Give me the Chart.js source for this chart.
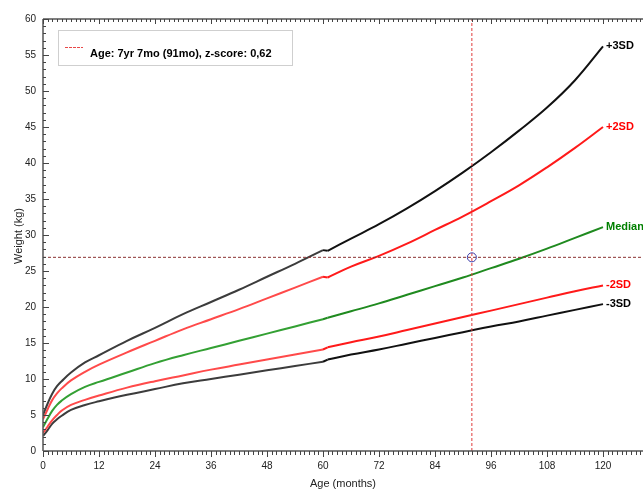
<!DOCTYPE html>
<html>
<head>
<meta charset="utf-8">
<script src="https://cdn.jsdelivr.net/npm/chart.js@4.4.1/dist/chart.umd.min.js"></script>
<style>
  html, body { margin: 0; padding: 0; background: #fff; overflow: hidden; }
  canvas { display: block; }
</style>
</head>
<body>
<canvas id="growth" width="643" height="490"></canvas>
<script>
// WHO weight-for-age (boys), 0-60 months
const agesA = [0, 1, 2, 3, 4, 6, 9, 12, 18, 24, 30, 36, 42, 48, 54, 60];
const plus3A  = [5.0, 6.6, 8.0, 9.0, 9.7, 10.9, 12.3, 13.3, 15.3, 17.1, 19.0, 20.7, 22.4, 24.2, 26.0, 27.9];
const plus2A  = [4.4, 5.8, 7.1, 8.0, 8.7, 9.8, 11.0, 12.0, 13.7, 15.3, 16.9, 18.3, 19.7, 21.2, 22.7, 24.2];
const medianA = [3.3, 4.5, 5.6, 6.4, 7.0, 7.9, 8.9, 9.6, 10.9, 12.2, 13.3, 14.3, 15.3, 16.3, 17.3, 18.3];
const minus2A = [2.5, 3.4, 4.3, 5.0, 5.6, 6.4, 7.1, 7.7, 8.8, 9.7, 10.5, 11.3, 12.0, 12.7, 13.4, 14.1];
const minus3A = [2.1, 2.9, 3.8, 4.4, 4.9, 5.7, 6.4, 6.9, 7.8, 8.6, 9.4, 10.0, 10.6, 11.2, 11.8, 12.4];

// WHO 2007 reference, 61-120 months
const agesB = [61, 66, 72, 78, 84, 90, 96, 102, 108, 114, 120];
const plus3B  = [27.8, 29.5, 31.5, 33.7, 36.1, 38.7, 41.5, 44.5, 47.7, 51.5, 56.2];
const plus2B  = [24.1, 25.6, 27.1, 28.8, 30.7, 32.6, 34.7, 36.9, 39.4, 42.1, 45.0];
const medianB = [18.5, 19.4, 20.5, 21.7, 22.9, 24.1, 25.4, 26.7, 28.1, 29.6, 31.1];
const minus2B = [14.4, 15.1, 15.9, 16.8, 17.7, 18.6, 19.5, 20.4, 21.3, 22.2, 23.0];
const minus3B = [12.7, 13.4, 14.1, 14.9, 15.7, 16.5, 17.3, 18.0, 18.8, 19.6, 20.4];

const curveNames = ['+3SD', '+2SD', 'Median', '-2SD', '-3SD'];

// patient measurement
const patientAge = 91.9;
const patientWeight = 26.9;
const legendText = 'Age: 7yr 7mo (91mo), z-score: 0,62';

const xTicks = [0, 12, 24, 36, 48, 60, 72, 84, 96, 108, 120];
const yTicks = [0, 5, 10, 15, 20, 25, 30, 35, 40, 45, 50, 55, 60];

const FONT = '"Liberation Sans", Arial, sans-serif';
const X_MAX = 128.57;   // axis runs past the right edge of the picture

function pts(ages, vals) {
    return ages.map((a, i) => ({ x: a, y: vals[i] }));
}

function curve(ages, vals, color) {
    return {
        type: 'line',
        data: pts(ages, vals),
        borderColor: color,
        borderWidth: 2,
        pointRadius: 0,
        tension: 0.4,
        fill: false
    };
}

// short straight join between 60mo (end of first table) and 61mo (start of second)
function joiner(valsA, valsB, color) {
    return {
        type: 'line',
        data: [
            { x: agesA[agesA.length - 1], y: valsA[valsA.length - 1] },
            { x: agesB[0], y: valsB[0] }
        ],
        borderColor: color,
        borderWidth: 2,
        pointRadius: 0,
        tension: 0
    };
}

const labelColors = ['#000000', '#ff0000', '#008000', '#ff0000', '#000000'];
const endValues = [plus3B, plus2B, medianB, minus2B, minus3B].map(a => a[a.length - 1]);

const axesPlugin = {
    id: 'growthAxes',
    afterDraw: chart => {
        const { ctx, chartArea: { left, right, top, bottom } } = chart;
        const xs = chart.scales.x, ys = chart.scales.y;
        ctx.save();

        // axis lines
        ctx.strokeStyle = '#555';
        ctx.lineWidth = 1.5;
        ctx.beginPath();
        ctx.moveTo(left, top); ctx.lineTo(left, bottom);
        ctx.moveTo(left, bottom); ctx.lineTo(right, bottom);
        ctx.moveTo(left, top); ctx.lineTo(right, top);
        ctx.stroke();

        // minor + major ticks
        ctx.lineWidth = 1;
        ctx.strokeStyle = '#444';
        ctx.beginPath();
        for (let m = 0; m <= xs.max; m++) {
            const px = Math.round(xs.getPixelForValue(m)) + 0.5;
            const major = m % 12 === 0;
            ctx.moveTo(px, bottom); ctx.lineTo(px, bottom + (major ? 6 : 4));
            ctx.moveTo(px, top); ctx.lineTo(px, top + (major ? 5 : 3));
        }
        for (let w = 0; w <= 60; w++) {
            const py = Math.round(ys.getPixelForValue(w)) + 0.5;
            const major = w % 5 === 0;
            ctx.moveTo(left, py); ctx.lineTo(left + (major ? 6 : 3), py);
        }
        ctx.stroke();

        // tick labels
        ctx.fillStyle = '#222';
        ctx.font = '10px ' + FONT;
        ctx.textAlign = 'right';
        ctx.textBaseline = 'middle';
        yTicks.forEach(v => ctx.fillText(String(v), 36, ys.getPixelForValue(v)));
        ctx.textAlign = 'center';
        xTicks.forEach(v => ctx.fillText(String(v), xs.getPixelForValue(v), 466));

        // axis titles
        ctx.font = '11px ' + FONT;
        ctx.fillText('Age (months)', 343, 484);
        ctx.save();
        ctx.translate(19, 236);
        ctx.rotate(-Math.PI / 2);
        ctx.fillText('Weight (kg)', 0, 0);
        ctx.restore();

        // curve end labels
        ctx.font = 'bold 11px ' + FONT;
        ctx.textAlign = 'left';
        curveNames.forEach((name, i) => {
            ctx.fillStyle = labelColors[i];
            ctx.fillText(name, xs.getPixelForValue(120) + 3, ys.getPixelForValue(endValues[i]));
        });

        // legend box
        ctx.fillStyle = '#fff';
        ctx.fillRect(58, 30, 234, 35);
        ctx.strokeStyle = '#cfcfcf';
        ctx.lineWidth = 1;
        ctx.strokeRect(58.5, 30.5, 234, 35);
        ctx.strokeStyle = '#e84848';
        ctx.setLineDash([3, 1]);
        ctx.beginPath();
        ctx.moveTo(65, 47.5); ctx.lineTo(83, 47.5);
        ctx.stroke();
        ctx.setLineDash([]);
        ctx.fillStyle = '#000';
        ctx.font = 'bold 11px ' + FONT;
        ctx.textBaseline = 'alphabetic';
        ctx.fillText(legendText, 90, 57);

        ctx.restore();
    }
};

new Chart(document.getElementById('growth'), {
    data: {
        datasets: [
            {
                type: 'scatter',
                data: [{ x: patientAge, y: patientWeight }],
                pointRadius: 4.5,
                pointBorderWidth: 1,
                pointBorderColor: '#3a3aa8',
                pointBackgroundColor: 'rgba(0,0,0,0)'
            },
            {
                type: 'line',
                data: [{ x: patientAge, y: 0 }, { x: patientAge, y: 60 }],
                borderColor: '#e03a3a',
                borderWidth: 1,
                borderDash: [3, 2],
                pointRadius: 0
            },
            {
                type: 'line',
                data: [{ x: 0, y: patientWeight }, { x: X_MAX, y: patientWeight }],
                borderColor: '#8a3030',
                borderWidth: 1,
                borderDash: [3, 2],
                pointRadius: 0
            },
            curve(agesB, plus3B, '#111111'),
            curve(agesB, plus2B, '#ff1a1a'),
            curve(agesB, medianB, '#1f8a1f'),
            curve(agesB, minus2B, '#ff1a1a'),
            curve(agesB, minus3B, '#111111'),
            joiner(plus3A, plus3B, '#111111'),
            joiner(plus2A, plus2B, '#ff1a1a'),
            joiner(medianA, medianB, '#1f8a1f'),
            joiner(minus2A, minus2B, '#ff1a1a'),
            joiner(minus3A, minus3B, '#111111'),
            curve(agesA, plus3A, '#3c3c3c'),
            curve(agesA, plus2A, '#ff4a4a'),
            curve(agesA, medianA, '#33a033'),
            curve(agesA, minus2A, '#ff4a4a'),
            curve(agesA, minus3A, '#3c3c3c')
        ]
    },
    options: {
        responsive: false,
        devicePixelRatio: 1,
        animation: false,
        layout: { autoPadding: false, padding: { left: 43, top: 19, right: 0, bottom: 39 } },
        plugins: {
            legend: { display: false },
            tooltip: { enabled: false }
        },
        scales: {
            x: { type: 'linear', min: 0, max: X_MAX, display: false },
            y: { type: 'linear', min: 0, max: 60, display: false }
        }
    },
    plugins: [axesPlugin]
});
</script>
</body>
</html>
